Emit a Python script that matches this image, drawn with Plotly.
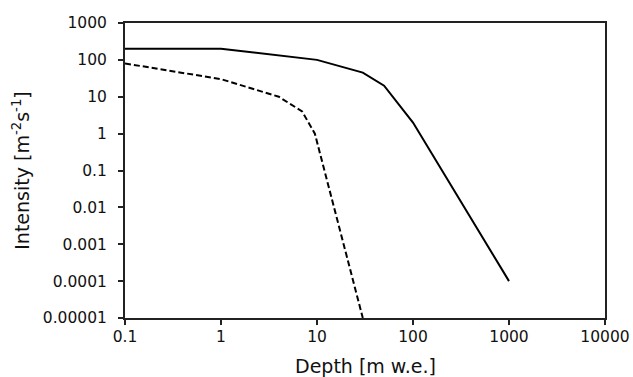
import plotly.graph_objects as go

# Data
depth_solid = [0.1, 1, 10, 30, 50, 100, 1000]
intensity_solid = [200, 200, 100, 45, 20, 2, 0.0001]

depth_dashed = [0.1, 1, 4, 7, 9.5, 30]
intensity_dashed = [80, 30, 10, 4, 1, 0.00001]

x_tickvals = [0.1, 1, 10, 100, 1000, 10000]
x_ticktext = ["0.1", "1", "10", "100", "1000", "10000"]
y_tickvals = [1000, 100, 10, 1, 0.1, 0.01, 0.001, 0.0001, 0.00001]
y_ticktext = ["1000", "100", "10", "1", "0.1", "0.01", "0.001", "0.0001", "0.00001"]

x_title = "Depth [m w.e.]"
y_title = "Intensity [m<sup>-2</sup>s<sup>-1</sup>]"

font_family = "DejaVu Sans, Arial, sans-serif"

fig = go.Figure()
fig.add_trace(go.Scatter(x=depth_solid, y=intensity_solid, mode="lines",
                         line=dict(color="black", width=2), showlegend=False))
fig.add_trace(go.Scatter(x=depth_dashed, y=intensity_dashed, mode="lines",
                         line=dict(color="black", width=2, dash="6px,3px"), showlegend=False))

fig.update_layout(
    width=633, height=377,
    margin=dict(l=125, r=28, t=23, b=59),
    plot_bgcolor="white", paper_bgcolor="white",
    font=dict(family=font_family, color="#111", size=15),
)
fig.add_annotation(text=x_title, xref="paper", yref="paper", x=0.5, y=-0.163,
                   xanchor="center", yanchor="middle", showarrow=False,
                   font=dict(size=19, color="#111"))
fig.update_xaxes(type="log", range=[-1, 4], tickvals=x_tickvals, ticktext=x_ticktext,
                 showgrid=False, zeroline=False, showline=True, linecolor="#222", linewidth=2,
                 mirror=True, ticks="outside", ticklen=5, tickwidth=1.5, tickcolor="#222",
                 ticklabelstandoff=-2, automargin=False,
                 tickfont=dict(size=15.5))
fig.update_yaxes(type="log", range=[-5, 3], tickvals=y_tickvals, ticktext=y_ticktext,
                 showgrid=False, zeroline=False, showline=True, linecolor="#222", linewidth=2,
                 mirror=True, ticks="outside", ticklen=5, tickwidth=1.5, tickcolor="#222",
                 ticklabelstandoff=8, automargin=False,
                 title=dict(text=y_title, font=dict(size=19), standoff=8),
                 tickfont=dict(size=15.5))

fig.write_html("out.html")
